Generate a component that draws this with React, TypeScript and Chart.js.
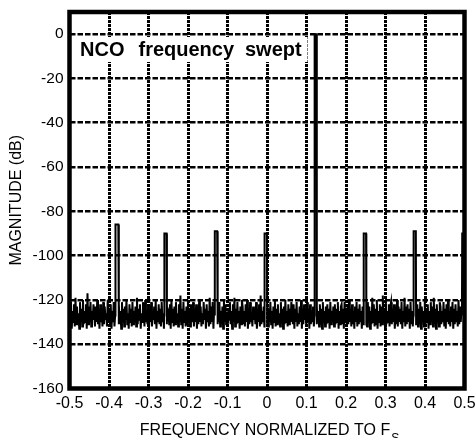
import React, { useEffect, useRef } from 'react';
import { Chart, registerables } from 'chart.js';

Chart.register(...registerables);

const FONT = '"Liberation Sans", Arial, Helvetica, sans-serif';

const xMin = -0.5;
const xMax = 0.5;
const xStep = 0.1;
const yMin = -160;
const yMax = 10;
const yStep = 20;

const titleWords = ['NCO', 'frequency', 'swept'];
const xTitle = 'FREQUENCY NORMALIZED TO F';
const xTitleSub = 'S';
const yTitle = 'MAGNITUDE (dB)';

// noise floor (dB), evenly spaced FFT bins across -0.5 .. 0.5
const noiseDb: number[] = [
  -124, -131, -121, -133, -125, -130, -122, -132, -119, -131, -123, -130, -126, -133, -121, -129, -124, -132, -120, -131, -125, -130, -122, -133, -117, -131, -123, -130, -121, -132, -125, -129, -122,
  -126, -132, -123, -130, -120, -131, -124, -133, -122, -130, -125, -132, -121, -131, -123, -129, -126, -132, -120, -130, -124, -131, -122, -133, -125, -130, -121, -132, -123, -131, -118, -130, -124,
  -122, -131, -125, -133, -121, -130, -124, -132, -123, -129, -120, -131, -126, -133, -122, -130, -124, -132, -121, -131, -125, -130, -123, -132, -119, -131, -124, -129, -122, -133, -126, -130, -121,
  -123, -132, -120, -130, -125, -131, -122, -133, -124, -130, -121, -132, -126, -129, -123, -131, -120, -133, -125, -130, -122, -131, -124, -132, -121, -130, -126, -133, -123, -131, -119, -130, -124,
  -125, -131, -122, -133, -120, -130, -124, -132, -123, -131, -121, -129, -126, -132, -122, -130, -118, -131, -124, -133, -121, -130, -125, -132, -123, -131, -120, -129, -124, -132, -122, -130, -125,
  -121, -132, -124, -130, -122, -133, -125, -131, -120, -130, -123, -132, -126, -131, -121, -129, -124, -133, -122, -130, -125, -132, -119, -131, -123, -130, -121, -133, -124, -131, -126, -130, -122,
  -124, -130, -121, -132, -125, -131, -123, -133, -120, -130, -122, -131, -126, -132, -124, -129, -121, -131, -125, -133, -122, -130, -119, -132, -124, -131, -121, -130, -125, -133, -123, -131, -120,
  -123, -131, -125, -132, -122, -130, -120, -133, -124, -131, -121, -130, -126, -132, -123, -129, -125, -131, -121, -133, -124, -130, -122, -132, -118, -131, -125, -130, -123, -132, -121, -131, -124,
  -122, -132, -124, -130, -121, -131, -125, -133, -123, -130, -120, -132, -124, -131, -122, -129, -126, -132, -121, -130, -124, -133, -123, -131, -120, -130, -125, -132, -122, -131, -124, -130, -121,
  -125, -131, -122, -133, -124, -130, -121, -132, -126, -131, -123, -130, -120, -133, -124, -131, -122, -129, -125, -132, -121, -130, -124, -133, -122, -131, -126, -130, -123, -132, -121, -131, -124,
  -123, -130, -125, -132, -122, -131, -124, -133, -121, -130, -125, -132, -123, -131, -122, -130, -124, -133, -121, -131, -125, -130, -123, -132, -122, -131, -124, -130, -121, -133, -125, -131, -123,
  -122, -131, -124, -133, -121, -130, -125, -132, -123, -131, -120, -130, -124, -132, -122, -131, -125, -133, -123, -130, -121, -132, -124, -131, -122, -130, -125, -133, -123, -131, -121, -130, -124,
  -124, -132, -121, -130, -123, -133, -125, -131, -119, -130, -122, -132, -124, -131, -120, -133, -125, -130, -122, -132, -123, -131, -118, -130, -124, -133, -121, -131, -125, -130, -122, -132, -123,
  -121, -131, -124, -130, -122, -133, -125, -131, -120, -132, -123, -130, -124, -131, -121, -133, -125, -130, -119, -132, -123, -131, -122, -130, -124, -133, -121, -131, -125, -132, -120, -130, -123,
  -125, -130, -122, -132, -124, -131, -121, -133, -123, -130, -125, -132, -120, -131, -124, -130, -122, -133, -125, -131, -121, -130, -123, -132, -119, -131, -124, -133, -122, -130, -125, -132, -121,
  -123, -131, -125, -130, -121, -132, -124, -133, -122, -130, -120, -131, -125, -132, -123, -130, -121, -133, -124, -131, -122, -130, -125, -132, -120, -131, -123, -130, -124, -133, -122, -131, -124,
];

// spurs / tones
const spikeFreq = [-0.38, -0.257, -0.129, -0.003, 0.123, 0.248, 0.374, 0.497];
const spikePeak = [-86, -90, -89, -90, 0, -90, -89, -90];
const spikeHalfWidth = [0.0045, 0.0035, 0.0035, 0.0035, 0.003, 0.0035, 0.0035, 0.0035];

function buildData() {
  const bin = (xMax - xMin) / (noiseDb.length - 1);
  const noisePts = noiseDb
    .map((y, i) => ({ x: xMin + i * bin, y }))
    .filter((p) => !spikeFreq.some((f, k) => Math.abs(p.x - f) <= spikeHalfWidth[k]));
  const spikePts = spikeFreq.flatMap((f, k) => {
    const hw = spikeHalfWidth[k];
    const pk = spikePeak[k];
    return [
      { x: f - hw, y: -127 },
      { x: f - hw * 0.8, y: pk },
      { x: f + hw * 0.8, y: pk },
      { x: f + hw, y: -131 },
    ];
  });
  return [...noisePts, ...spikePts].sort((a, b) => a.x - b.x);
}

const decorPlugin = {
  id: 'decor',
  afterDatasetsDraw(chart: any) {
    const { ctx, chartArea } = chart;
    const { left, top, right, bottom } = chartArea;
    ctx.save();
    // white label box
    ctx.fillStyle = '#fff';
    ctx.fillRect(left + 2, top + 25, 236, 25);
    // frame
    ctx.strokeStyle = '#000';
    ctx.lineWidth = 4.5;
    ctx.strokeRect(left, top, right - left, bottom - top);
    // in-plot title
    ctx.fillStyle = '#000';
    ctx.font = `bold 20px ${FONT}`;
    ctx.textBaseline = 'alphabetic';
    ctx.textAlign = 'left';
    const wordX = [left + 10.5, left + 69, left + 175.5];
    titleWords.forEach((w, i) => ctx.fillText(w, wordX[i], top + 44));
    // x axis title
    ctx.font = `16px ${FONT}`;
    const mainW = ctx.measureText(xTitle).width;
    ctx.font = `12px ${FONT}`;
    const subW = ctx.measureText(xTitleSub).width;
    const cx = (left + right) / 2 + 2;
    const startX = cx - (mainW + subW) / 2;
    ctx.font = `16px ${FONT}`;
    ctx.fillText(xTitle, startX, 435);
    ctx.font = `12px ${FONT}`;
    ctx.fillText(xTitleSub, startX + mainW + 1, 442);
    // y axis title
    ctx.font = `16px ${FONT}`;
    ctx.translate(21, (top + bottom) / 2);
    ctx.rotate(-Math.PI / 2);
    ctx.textAlign = 'center';
    ctx.fillText(yTitle, 0, 0);
    ctx.restore();
  },
};

export default function App() {
  const ref = useRef<HTMLCanvasElement | null>(null);
  useEffect(() => {
    if (!ref.current) return;
    const chart = new Chart(ref.current, {
      type: 'line',
      data: {
        datasets: [
          {
            data: buildData(),
            borderColor: '#000',
            borderWidth: 2,
            pointRadius: 0,
            tension: 0,
            fill: false,
          },
        ],
      },
      options: {
        animation: false,
        responsive: true,
        maintainAspectRatio: false,
        layout: { padding: { top: 12, right: 10.5, left: 0, bottom: 0 } },
        plugins: { legend: { display: false }, tooltip: { enabled: false } },
        scales: {
          x: {
            type: 'linear',
            min: xMin,
            max: xMax,
            ticks: {
              stepSize: xStep,
              includeBounds: false,
              autoSkip: false,
              maxRotation: 0,
              color: '#000',
              padding: 5,
              font: { family: FONT, size: 16 },
              callback: (v: any) => String(Number(Number(v).toFixed(1))),
            },
            grid: { color: '#000', lineWidth: 3, drawTicks: false },
            border: { display: false, dash: [3, 1] },
            afterFit: (s: any) => {
              s.height = 49.5;
              s.paddingLeft = 0;
              s.paddingRight = 0;
            },
          },
          y: {
            min: yMin,
            max: yMax,
            ticks: {
              stepSize: yStep,
              includeBounds: false,
              color: '#000',
              padding: 6,
              font: { family: FONT, size: 15.5 },
            },
            grid: { color: '#000', lineWidth: 2.5, drawTicks: false },
            border: { display: false, dash: [5.5, 2] },
            afterFit: (s: any) => {
              s.width = 69.5;
              s.paddingTop = 0;
              s.paddingBottom = 0;
            },
          },
        },
      } as any,
      plugins: [decorPlugin],
    });
    return () => chart.destroy();
  }, []);
  return (
    <div style={{ position: 'fixed', left: 0, top: 0, width: 475, height: 438, background: '#fff' }}>
      <canvas ref={ref} />
    </div>
  );
}
